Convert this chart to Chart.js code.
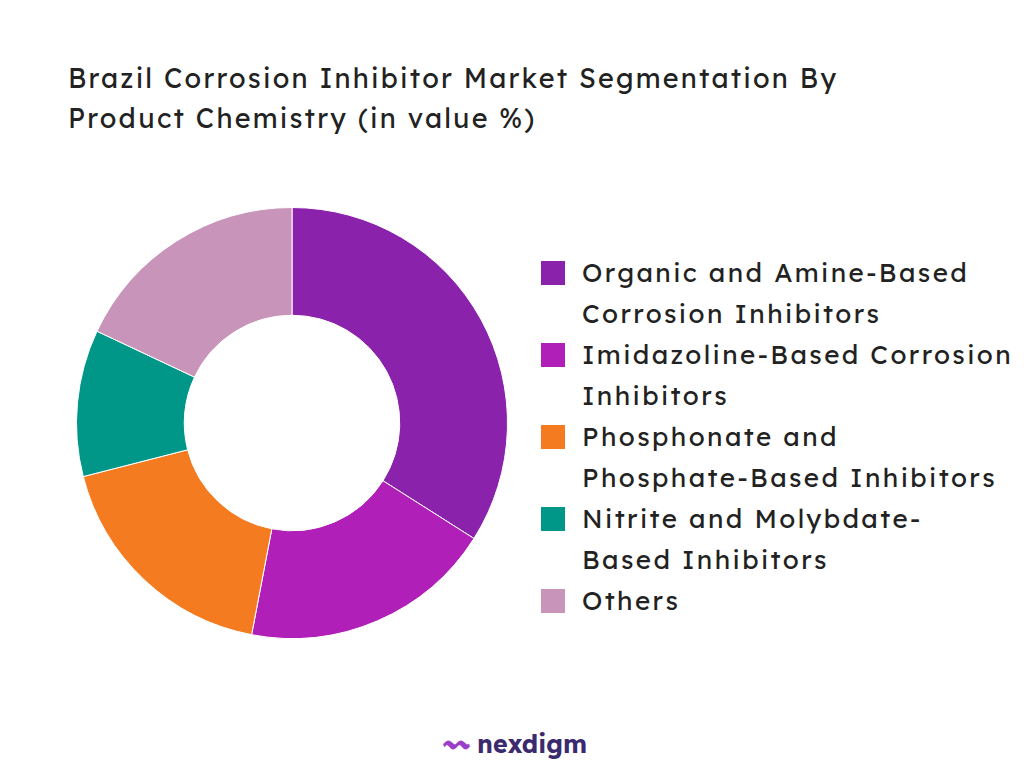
<!DOCTYPE html>
<html><head><meta charset="utf-8">
<script src="https://cdn.jsdelivr.net/npm/chart.js@4"></script>
<style>
body{margin:0;width:1024px;height:768px;background:#fff;font-family:Lexend,Inter,"Open Sans",sans-serif;position:relative;overflow:hidden}
#title{position:absolute;left:68px;top:58px;font-size:27px;line-height:40px;color:#222;letter-spacing:2.2px;white-space:nowrap}
#wrap{position:absolute;left:72px;top:203px;width:440px;height:440px}
#legend{position:absolute;left:541px;top:252px;font-size:26px;line-height:41px;color:#222;letter-spacing:2.4px;white-space:nowrap}
.item{display:flex;align-items:flex-start}
.box{width:24px;height:24px;margin-top:9px;margin-right:17px;flex:none}
#logo{position:absolute;left:444px;top:724px;font-size:25px;font-weight:bold;color:#3b2a6e}
</style></head><body>
<div id="title">Brazil Corrosion Inhibitor Market Segmentation By<br>Product Chemistry (in value %)</div>
<div id="wrap"><canvas id="c"></canvas></div>
<div id="legend"></div>
<div id="logo"><span style="color:#9b3fc9">〰</span> nexdigm</div>
<script>
const categories=[["Organic and Amine-Based","Corrosion Inhibitors"],["Imidazoline-Based Corrosion","Inhibitors"],["Phosphonate and","Phosphate-Based Inhibitors"],["Nitrite and Molybdate-","Based Inhibitors"],["Others"]];
const values=[34,19,18,11,18];
const colors=["#8B22AB","#B01FB8","#F47B20","#009688","#C994B9"];
new Chart(document.getElementById('c'),{type:'doughnut',
data:{labels:categories.map(c=>c.join(' ')),datasets:[{data:values,backgroundColor:colors,borderColor:'#fff',borderWidth:1}]},
options:{responsive:true,maintainAspectRatio:false,cutout:'50%',animation:false,layout:{padding:4},
plugins:{legend:{display:false},tooltip:{enabled:false}}}});
const lg=document.getElementById('legend');
categories.forEach((c,i)=>{const d=document.createElement('div');d.className='item';
d.innerHTML='<div class="box" style="background:'+colors[i]+'"></div><div>'+c.join('<br>')+'</div>';lg.appendChild(d);});
</script></body></html>
